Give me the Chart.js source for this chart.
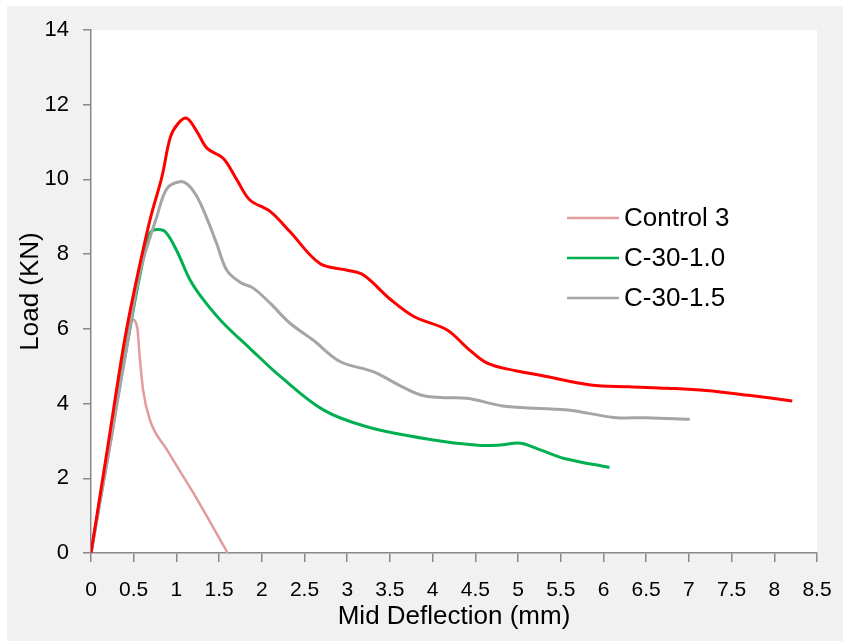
<!DOCTYPE html>
<html>
<head>
<meta charset="utf-8">
<script src="https://cdn.jsdelivr.net/npm/chart.js@4"></script>
<style>
  body { margin: 0; background: #fff; }
  canvas { display: block; }
</style>
</head>
<body>
<canvas id="loadChart" width="843" height="641"></canvas>
<script>
const xTicks = [0, 0.5, 1, 1.5, 2, 2.5, 3, 3.5, 4, 4.5, 5, 5.5, 6, 6.5, 7, 7.5, 8, 8.5];
const yTicks = [0, 2, 4, 6, 8, 10, 12, 14];

const controlX = [0, 0.25, 0.48, 0.54, 0.57, 0.61, 0.69, 0.89, 1.2, 1.6];
const controlY = [0, 3.2, 6.25, 6.06, 5.26, 4.36, 3.56, 2.76, 1.6, 0];

const c10X = [0, 0.2, 0.46, 0.57, 0.69, 0.77, 0.87, 1.0, 1.16, 1.32, 1.55, 1.86, 2.22, 2.72, 3.23, 3.97, 4.56, 4.79, 5.03, 5.26, 5.54, 6.07];
const c10Y = [0, 2.7, 6.06, 7.4, 8.56, 8.66, 8.6, 8.11, 7.31, 6.77, 6.15, 5.48, 4.72, 3.83, 3.38, 3.04, 2.88, 2.89, 2.94, 2.76, 2.53, 2.29];

const c15X = [0, 0.2, 0.42, 0.57, 0.77, 0.89, 1.04, 1.14, 1.24, 1.34, 1.47, 1.59, 1.75, 1.9, 2.1, 2.33, 2.6, 2.92, 3.31, 3.6, 3.86, 4.1, 4.4, 4.87, 5.58, 6.12, 6.5, 7.01];
const c15Y = [0, 2.6, 5.52, 7.49, 9.0, 9.76, 9.94, 9.85, 9.54, 9.05, 8.29, 7.57, 7.24, 7.09, 6.68, 6.15, 5.7, 5.12, 4.85, 4.5, 4.23, 4.16, 4.14, 3.92, 3.83, 3.63, 3.62, 3.58];

const c20X = [0, 0.2, 0.38, 0.5, 0.69, 0.83, 0.93, 1.02, 1.12, 1.24, 1.36, 1.55, 1.71, 1.86, 2.1, 2.33, 2.68, 3.0, 3.19, 3.5, 3.78, 4.17, 4.4, 4.64, 4.97, 5.26, 5.85, 6.3, 6.75, 7.2, 7.7, 8.21];
const c20Y = [0, 2.9, 5.52, 6.95, 8.91, 10.07, 11.14, 11.5, 11.64, 11.28, 10.83, 10.56, 9.98, 9.45, 9.14, 8.6, 7.75, 7.57, 7.44, 6.8, 6.33, 5.97, 5.5, 5.08, 4.88, 4.76, 4.5, 4.45, 4.41, 4.35, 4.22, 4.07];

const toPoints = (xs, ys) => xs.map((x, i) => ({ x: x, y: ys[i] }));

const FONT = "'Liberation Sans', Arial, sans-serif";

function series(label, xs, ys, color, width, order, inLegend) {
  return {
    label: label,
    data: toPoints(xs, ys),
    borderColor: color,
    backgroundColor: color,
    borderWidth: width,
    showLine: true,
    pointRadius: 0,
    tension: 0.35,
    order: order,
    inLegend: inLegend,
  };
}

// gray frame + white plot area
const frame = {
  id: "frame",
  beforeDraw(chart) {
    const ctx = chart.ctx;
    const a = chart.chartArea;
    ctx.save();
    ctx.fillStyle = "#ffffff";
    ctx.fillRect(0, 0, chart.width, chart.height);
    ctx.fillStyle = "#f1f1f1";
    ctx.fillRect(7, 6, chart.width - 7, chart.height - 6);
    ctx.fillStyle = "#ffffff";
    ctx.fillRect(a.left, a.top, a.right - a.left, a.bottom - a.top);
    ctx.restore();
  },
};

// legend inside the plot
const innerLegend = {
  id: "innerLegend",
  afterDraw(chart) {
    const ctx = chart.ctx;
    const a = chart.chartArea;
    const x0 = a.left + 476;
    let y = a.top + 188;
    ctx.save();
    ctx.font = "26px " + FONT;
    ctx.textBaseline = "middle";
    ctx.fillStyle = "#000";
    chart.data.datasets.filter((d) => d.inLegend).forEach((d) => {
      ctx.strokeStyle = d.borderColor;
      ctx.lineWidth = 2.5;
      ctx.beginPath();
      ctx.moveTo(x0, y);
      ctx.lineTo(x0 + 52, y);
      ctx.stroke();
      ctx.fillText(d.label, x0 + 57, y + 1);
      y += 40;
    });
    ctx.restore();
  },
};

const control = series("Control 3", controlX, controlY, "#e39b9b", 2.5, 4, true);
control.cubicInterpolationMode = "monotone";

new Chart(document.getElementById("loadChart"), {
  type: "scatter",
  data: {
    datasets: [
      control,
      series("C-30-1.0", c10X, c10Y, "#00b050", 3, 2, true),
      series("C-30-1.5", c15X, c15Y, "#a5a5a5", 3, 1, true),
      series("C-30-2.0", c20X, c20Y, "#ff0000", 3, 0, false),
    ],
  },
  options: {
    responsive: false,
    animation: false,
    layout: { padding: { left: 0, top: 30, right: 26, bottom: 0 } },
    plugins: {
      legend: { display: false },
      tooltip: { enabled: false },
    },
    scales: {
      x: {
        type: "linear",
        min: 0,
        max: 8.5,
        afterBuildTicks: (s) => { s.ticks = xTicks.map((v) => ({ value: v })); },
        afterFit: (s) => { s.height = 88; s.paddingLeft = 0; s.paddingRight = 0; },
        border: { color: "#898989", width: 1.5 },
        grid: { drawOnChartArea: false, tickLength: 9, color: "#898989", lineWidth: 1.5 },
        ticks: {
          color: "#000",
          font: { family: FONT, size: 21 },
          padding: 16,
          maxRotation: 0,
          autoSkip: false,
          callback: (v) => String(v),
        },
        title: { display: true, text: "Mid Deflection (mm)", color: "#000", font: { family: FONT, size: 26 }, padding: { top: 0, bottom: 9 } },
      },
      y: {
        type: "linear",
        min: 0,
        max: 14,
        afterBuildTicks: (s) => { s.ticks = yTicks.map((v) => ({ value: v })); },
        afterFit: (s) => { s.width = 91; },
        border: { color: "#898989", width: 1.5 },
        grid: { drawOnChartArea: false, tickLength: 8, color: "#898989", lineWidth: 1.5 },
        ticks: { color: "#000", font: { family: FONT, size: 22 }, padding: 14, callback: (v) => String(v) },
        title: { display: true, text: "Load (KN)", color: "#000", font: { family: FONT, size: 26 }, padding: { top: 15, bottom: 0 } },
      },
    },
  },
  plugins: [frame, innerLegend],
});
</script>
</body>
</html>
